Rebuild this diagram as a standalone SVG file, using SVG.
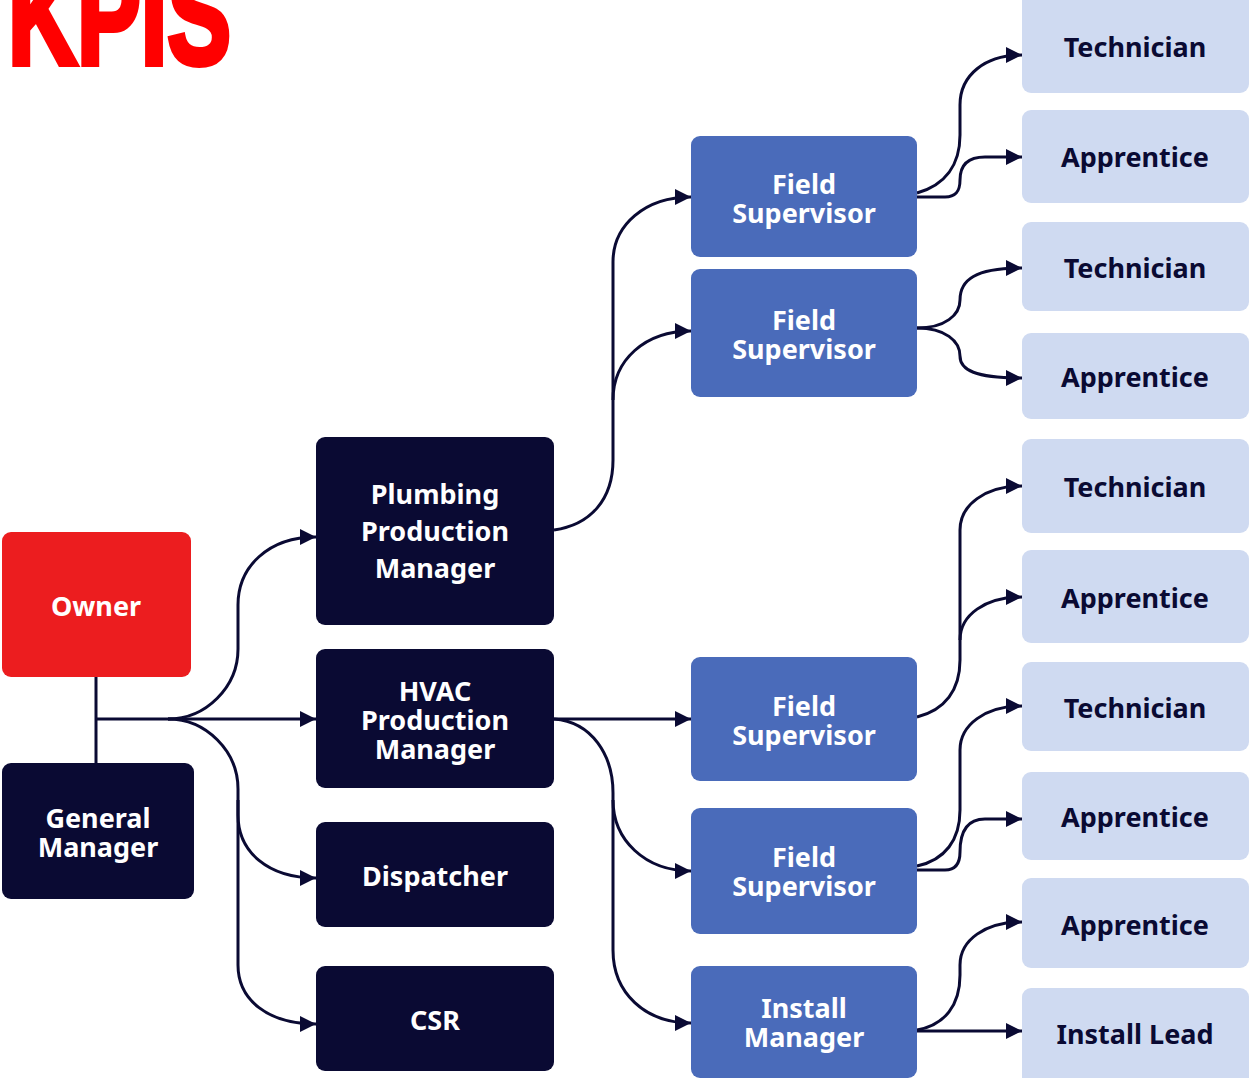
<svg xmlns="http://www.w3.org/2000/svg" width="1249" height="1078" viewBox="0 0 1249 1078">
<style>
.t{font-family:"Noto Sans","Liberation Sans",sans-serif;font-weight:700;font-size:27px;text-anchor:middle}
.w{fill:#ffffff}
.d{fill:#0A0A33}
.red{fill:#EC1D1F}
.navy{fill:#0A0A33}
.mid{fill:#4A6BBA}
.light{fill:#CFDAF1}
.c{fill:none;stroke:#0A0A33;stroke-width:3}
.a{marker-end:url(#arr)}
</style>
<defs>
<marker id="arr" markerUnits="userSpaceOnUse" markerWidth="18" markerHeight="18" refX="17" refY="9" orient="auto">
<path d="M1,1 L17,9 L1,17 Z" fill="#0A0A33"/>
</marker>
</defs>
<rect width="1249" height="1078" fill="#ffffff"/>
<text x="8" y="64" font-family="Liberation Sans, sans-serif" font-weight="700" font-size="140" fill="#FF0000" stroke="#FF0000" stroke-width="6" textLength="223" lengthAdjust="spacingAndGlyphs">KPIS</text>

<g id="connectors">
<path class="c" d="M96,677 V763"/>
<path class="c a" d="M96,719 H316"/>
<path class="c a" d="M168,719 C206,719 238,687 238,649 V605 C238,567 268,537 316,537"/>
<path class="c a" d="M168,719 C206,719 238,751 238,789 V815 C238,852 268,878 316,878"/>
<path class="c a" d="M238,800 V965 C238,1000 268,1024 316,1024"/>
<path class="c a" d="M554,530 C590,525 613,500 613,460 V262 C613,225 645,197 691,197"/>
<path class="c a" d="M613,400 C613,360 645,331 691,331"/>
<path class="c a" d="M554,719 H691"/>
<path class="c a" d="M554,719 C592,722 613,755 613,793 V950 C613,993 645,1023 691,1023"/>
<path class="c a" d="M613,800 C613,840 645,871 691,871"/>
<path class="c a" d="M917,193 C945,185 960,165 960,135 V105 C960,75 985,55 1022,55"/>
<path class="c a" d="M917,197 H945 C957,197 960,190 960,180 C960,165 968,157 985,157 H1022"/>
<path class="c a" d="M917,328 C945,328 960,315 960,300 C960,280 975,268 1022,268"/>
<path class="c a" d="M917,328 C945,328 960,341 960,356 C960,370 975,378 1022,378"/>
<path class="c a" d="M917,717 C945,710 960,690 960,660 V530 C960,505 985,486 1022,486"/>
<path class="c a" d="M960,640 C960,615 985,597 1022,597"/>
<path class="c a" d="M917,866 C945,860 960,840 960,810 V750 C960,725 985,706 1022,706"/>
<path class="c a" d="M917,870 H945 C957,870 960,862 960,852 C960,830 968,819 985,819 H1022"/>
<path class="c a" d="M917,1030 C945,1025 960,1005 960,975 V965 C960,940 985,922 1022,922"/>
<path class="c a" d="M917,1031 H1022"/>
</g>

<g id="owner"><rect class="red" x="2" y="532" width="189" height="145" rx="9"/><text class="t w" x="96" y="616">Owner</text></g>
<g id="general-manager"><rect class="navy" x="2" y="763" width="192" height="136" rx="9"/><text class="t w" x="98" y="828">General</text><text class="t w" x="98" y="857">Manager</text></g>

<g id="plumbing"><rect class="navy" x="316" y="437" width="238" height="188" rx="9"/><text class="t w" x="435" y="504">Plumbing</text><text class="t w" x="435" y="541">Production</text><text class="t w" x="435" y="578">Manager</text></g>
<g id="hvac"><rect class="navy" x="316" y="649" width="238" height="139" rx="9"/><text class="t w" x="435" y="701">HVAC</text><text class="t w" x="435" y="730">Production</text><text class="t w" x="435" y="759">Manager</text></g>
<g id="dispatcher"><rect class="navy" x="316" y="822" width="238" height="105" rx="9"/><text class="t w" x="435" y="886">Dispatcher</text></g>
<g id="csr"><rect class="navy" x="316" y="966" width="238" height="105" rx="9"/><text class="t w" x="435" y="1030">CSR</text></g>

<g id="fs1"><rect class="mid" x="691" y="136" width="226" height="121" rx="9"/><text class="t w" x="804" y="194">Field</text><text class="t w" x="804" y="223">Supervisor</text></g>
<g id="fs2"><rect class="mid" x="691" y="269" width="226" height="128" rx="9"/><text class="t w" x="804" y="330">Field</text><text class="t w" x="804" y="359">Supervisor</text></g>
<g id="fs3"><rect class="mid" x="691" y="657" width="226" height="124" rx="9"/><text class="t w" x="804" y="716">Field</text><text class="t w" x="804" y="745">Supervisor</text></g>
<g id="fs4"><rect class="mid" x="691" y="808" width="226" height="126" rx="9"/><text class="t w" x="804" y="867">Field</text><text class="t w" x="804" y="896">Supervisor</text></g>
<g id="install-manager"><rect class="mid" x="691" y="966" width="226" height="112" rx="9"/><text class="t w" x="804" y="1018">Install</text><text class="t w" x="804" y="1047">Manager</text></g>

<g id="tech1"><rect class="light" x="1022" y="-10" width="227" height="103" rx="9"/><text class="t d" x="1135" y="57">Technician</text></g>
<g id="app1"><rect class="light" x="1022" y="110" width="227" height="93" rx="9"/><text class="t d" x="1135" y="167">Apprentice</text></g>
<g id="tech2"><rect class="light" x="1022" y="222" width="227" height="89" rx="9"/><text class="t d" x="1135" y="278">Technician</text></g>
<g id="app2"><rect class="light" x="1022" y="333" width="227" height="86" rx="9"/><text class="t d" x="1135" y="387">Apprentice</text></g>
<g id="tech3"><rect class="light" x="1022" y="439" width="227" height="94" rx="9"/><text class="t d" x="1135" y="497">Technician</text></g>
<g id="app3"><rect class="light" x="1022" y="550" width="227" height="93" rx="9"/><text class="t d" x="1135" y="608">Apprentice</text></g>
<g id="tech4"><rect class="light" x="1022" y="662" width="227" height="89" rx="9"/><text class="t d" x="1135" y="718">Technician</text></g>
<g id="app4"><rect class="light" x="1022" y="772" width="227" height="88" rx="9"/><text class="t d" x="1135" y="827">Apprentice</text></g>
<g id="app5"><rect class="light" x="1022" y="878" width="227" height="90" rx="9"/><text class="t d" x="1135" y="935">Apprentice</text></g>
<g id="install-lead"><rect class="light" x="1022" y="988" width="227" height="100" rx="9"/><text class="t d" x="1135" y="1044">Install Lead</text></g>
</svg>
